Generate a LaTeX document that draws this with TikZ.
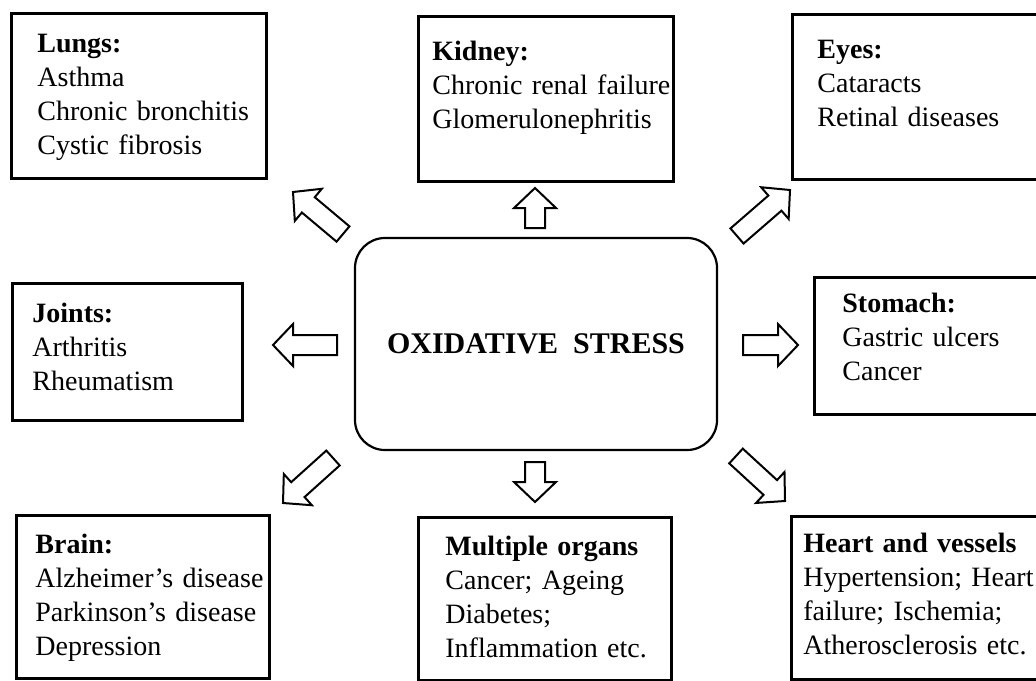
\documentclass[tikz,border=0pt]{standalone}
\usepackage{fontspec}
\setmainfont{Liberation Serif}
\usetikzlibrary{calc}

% hollow block arrow from tail #1 to tip #2
\newcommand{\fatarrow}[2]{%
	\coordinate (fa-h) at ($(#2)!10pt!(#1)$);
	\draw[blockarrow] ($(#1)!5pt!90:(#2)$) -- ($(fa-h)!5pt!90:(#2)$) -- ($(fa-h)!10.5pt!90:(#2)$) -- (#2)
		-- ($(fa-h)!10.5pt!-90:(#2)$) -- ($(fa-h)!5pt!-90:(#2)$) -- ($(#1)!5pt!-90:(#2)$) -- cycle;
}

\begin{document}
\begin{tikzpicture}[x=0.5pt, y=-0.5pt,
	organ/.style={draw, line width=1.4pt, anchor=north west, inner sep=0pt},
	txt/.style={anchor=base west, align=left, text width=135pt, inner sep=0pt, font=\fontsize{14}{17}\selectfont},
	blockarrow/.style={draw, fill=white, line width=1pt, line join=miter}]
	
	\path[use as bounding box, fill=white] (0,0) rectangle (1036,680);
	\clip (0,0) rectangle (1036,680);
	
	% centre
	\node[draw, rounded corners=15pt, line width=1.1pt, minimum width=181pt, minimum height=106pt,
		font=\bfseries\fontsize{15}{18}\selectfont] (ox) at (536,344) {OXIDATIVE\ \ STRESS};
	
	% organ boxes
	\node[organ, minimum width=127.5pt, minimum height=82.5pt] (lungs) at (10,12) {};
	\node[organ, minimum width=127.5pt, minimum height=82.5pt] (kidney) at (417,15) {};
	\node[organ, minimum width=130pt, minimum height=82.5pt] (eyes) at (791,13) {};
	\node[organ, minimum width=115pt, minimum height=68.5pt] (joints) at (11,282) {};
	\node[organ, minimum width=120pt, minimum height=68.5pt] (stomach) at (813,276) {};
	\node[organ, minimum width=126.5pt, minimum height=81.5pt] (brain) at (15,514) {};
	\node[organ, minimum width=126.5pt, minimum height=81.5pt] (multi) at (417,516) {};
	\node[organ, minimum width=130pt, minimum height=81.5pt] (heart) at (790,515) {};
	
	% texts
	\node[txt] (lungs-t) at (37,52) {\textbf{Lungs:}\\Asthma\\Chronic bronchitis\\Cystic fibrosis};
	\node[txt] (kidney-t) at (432,60) {\textbf{Kidney:}\\Chronic renal failure\\Glomerulonephritis};
	\node[txt] (eyes-t) at (817,58) {\textbf{Eyes:}\\Cataracts\\Retinal diseases};
	\node[txt] (joints-t) at (32,322) {\textbf{Joints:}\\Arthritis\\Rheumatism};
	\node[txt] (stomach-t) at (842,312) {\textbf{Stomach:}\\Gastric ulcers\\Cancer};
	\node[txt] (brain-t) at (35,553) {\textbf{Brain:}\\Alzheimer’s disease\\Parkinson’s disease\\Depression};
	\node[txt] (multi-t) at (445,555) {\textbf{Multiple organs}\\Cancer; Ageing\\Diabetes;\\Inflammation etc.};
	\node[txt] (heart-t) at (803,552) {\textbf{Heart and vessels}\\Hypertension; Heart\\failure; Ischemia;\\Atherosclerosis etc.};
	
	% arrow ends
	\coordinate (lungs-a) at (343,234);
	\coordinate (lungs-b) at (293,192);
	\coordinate (kidney-a) at (535,228);
	\coordinate (kidney-b) at (535,188);
	\coordinate (eyes-a) at (737,236);
	\coordinate (eyes-b) at (790,190);
	\coordinate (joints-a) at (337,345);
	\coordinate (joints-b) at (273,345);
	\coordinate (stomach-a) at (743,345);
	\coordinate (stomach-b) at (798,345);
	\coordinate (brain-a) at (333,458);
	\coordinate (brain-b) at (283,503);
	\coordinate (multi-a) at (535,462);
	\coordinate (multi-b) at (535,502);
	\coordinate (heart-a) at (736,456);
	\coordinate (heart-b) at (785,501);
	
	\foreach \o in {lungs,kidney,eyes,joints,stomach,brain,multi,heart}
		\fatarrow{\o-a}{\o-b};
	
\end{tikzpicture}
\end{document}
